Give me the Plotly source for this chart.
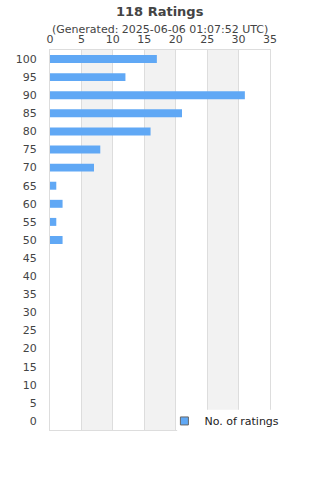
import plotly.graph_objects as go

categories = [str(v) for v in range(0, 105, 5)]
counts = [0, 0, 0, 0, 0, 0, 0, 0, 0, 0, 2, 1, 2, 1, 7, 8, 16, 21, 31, 12, 17]
series_name = "No. of ratings"
title_text = "118 Ratings"
subtitle_text = "(Generated: 2025-06-06 01:07:52 UTC)"
x_ticks = list(range(0, 40, 5))

FONT = "DejaVu Sans"
TXT = "#444444"
BAR = "#60A8F5"

fig = go.Figure()
fig.add_trace(go.Bar(
    y=categories, x=counts, orientation="h", name=series_name,
    marker=dict(color=BAR, line=dict(width=0)),
    showlegend=False,
))
# legend swatch (small bordered square, as in the reference)
fig.add_trace(go.Scatter(
    x=[None], y=[None], mode="markers", name=series_name,
    marker=dict(symbol="square", size=8, color=BAR,
                line=dict(color="#666666", width=1)),
    showlegend=True,
))

shapes = []
for i in range(1, len(x_ticks) - 1, 2):
    shapes.append(dict(type="rect", xref="x", yref="paper",
                       x0=x_ticks[i], x1=x_ticks[i + 1], y0=0, y1=1,
                       fillcolor="#f2f2f2", line=dict(width=0), layer="below"))
# white legend backdrop over the plot's lower-right corner
shapes.append(dict(type="rect", xref="paper", yref="paper",
                   x0=0.578, x1=1.02, y0=-0.01, y1=0.053,
                   fillcolor="white", line=dict(width=0), layer="above"))

fig.update_layout(
    width=320, height=480,
    margin=dict(l=50, r=50, t=50, b=50),
    paper_bgcolor="white", plot_bgcolor="white",
    font=dict(family=FONT, size=11, color=TXT),
    bargap=0.56,
    shapes=shapes,
    showlegend=True,
    legend=dict(x=0.52, xanchor="left", y=0.062, yanchor="top",
                bgcolor="rgba(0,0,0,0)", font=dict(size=11, color="#222"),
                itemwidth=30),
    annotations=[
        dict(text="<b>" + title_text + "</b>", xref="paper", yref="paper",
             x=0.5, y=1, xanchor="center", yanchor="bottom", yshift=29,
             showarrow=False, font=dict(size=13, color="#444")),
        dict(text=subtitle_text, xref="paper", yref="paper",
             x=0.5, y=1, xanchor="center", yanchor="bottom", yshift=12,
             showarrow=False, font=dict(size=11, color="#444")),
    ],
)
fig.update_xaxes(side="top", range=[0, 35], tickvals=x_ticks,
                 showgrid=True, gridcolor="#dddddd", gridwidth=1,
                 showline=True, linecolor="#dddddd", mirror=True,
                 zeroline=False, ticks="", ticklabelstandoff=2,
                 tickfont=dict(size=11, color=TXT))
fig.update_yaxes(type="category", categoryorder="array", categoryarray=categories,
                 range=[-0.5, 20.5], showgrid=False,
                 showline=True, linecolor="#dddddd", mirror=True,
                 ticks="", ticklabelstandoff=10,
                 tickfont=dict(size=11, color=TXT))

fig.write_html("out.html")
